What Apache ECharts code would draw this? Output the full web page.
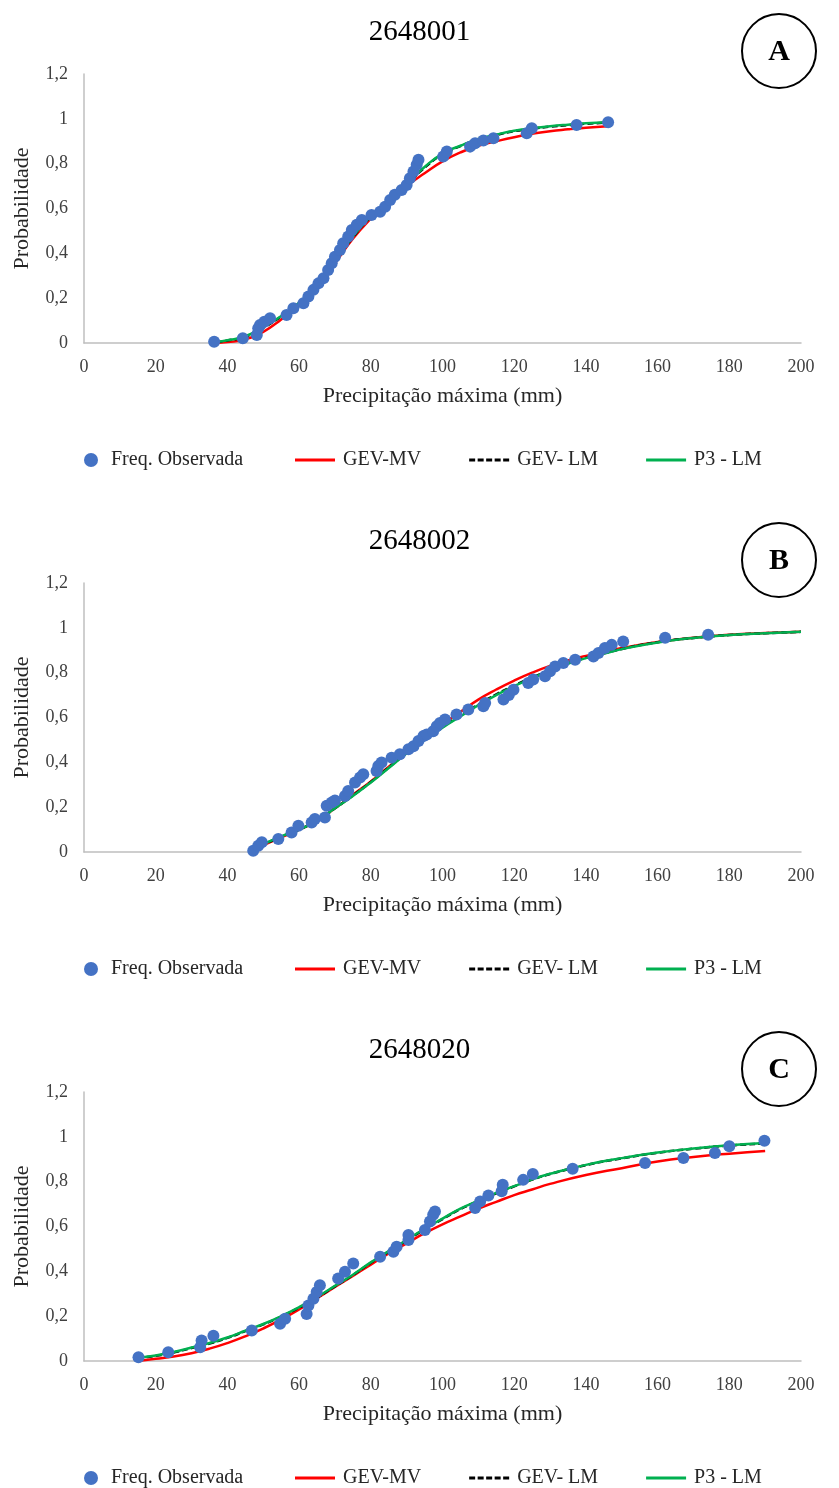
<!DOCTYPE html>
<html>
<head>
<meta charset="utf-8">
<script src="https://cdn.jsdelivr.net/npm/echarts@6/dist/echarts.min.js"></script>
<style>
  html, body { margin: 0; padding: 0; background: #fff; }
  #main { width: 839px; height: 1488px; }
</style>
</head>
<body>
<div id="main"></div>
<script>
// estações
var titles = ['2648001', '2648002', '2648020'];
var letters = ['A', 'B', 'C'];

// frequência observada
var obsXA = [36.3, 44.3, 48.2, 48.6, 49.1, 50.3, 51.9, 56.5, 58.4, 61.2, 62.6, 64.0, 65.4, 66.8, 68.1, 69.1, 70.0, 71.4, 72.3, 73.7, 74.7, 76.1, 77.5, 80.2, 82.6, 84.0, 85.4, 86.7, 88.6, 90.0, 90.9, 91.9, 92.8, 93.3, 100.2, 101.2, 107.7, 109.1, 111.4, 114.2, 123.5, 124.9, 137.4, 146.2];
var obsYA = [0.006, 0.021, 0.036, 0.066, 0.08, 0.095, 0.11, 0.125, 0.155, 0.177, 0.207, 0.237, 0.266, 0.289, 0.326, 0.356, 0.385, 0.415, 0.445, 0.475, 0.504, 0.527, 0.549, 0.571, 0.586, 0.608, 0.638, 0.661, 0.683, 0.705, 0.735, 0.765, 0.795, 0.817, 0.832, 0.854, 0.876, 0.891, 0.903, 0.913, 0.936, 0.958, 0.973, 0.985];

var obsXB = [47.2, 48.6, 49.6, 54.2, 57.9, 59.8, 63.5, 64.4, 67.2, 67.7, 69.1, 70.0, 72.8, 73.7, 75.6, 77.0, 77.9, 81.6, 82.1, 83.0, 85.8, 88.1, 90.5, 91.9, 93.3, 94.7, 95.6, 97.4, 98.4, 99.3, 100.7, 103.9, 107.2, 111.4, 111.9, 117.0, 118.5, 119.8, 123.9, 125.3, 128.6, 130.0, 131.4, 133.7, 137.0, 142.1, 143.5, 145.3, 147.2, 150.4, 162.1, 174.1];
var obsYB = [0.006, 0.028, 0.043, 0.058, 0.087, 0.117, 0.132, 0.147, 0.154, 0.206, 0.221, 0.23, 0.25, 0.272, 0.31, 0.332, 0.347, 0.361, 0.384, 0.399, 0.421, 0.436, 0.458, 0.472, 0.495, 0.517, 0.524, 0.539, 0.561, 0.576, 0.591, 0.613, 0.636, 0.65, 0.665, 0.68, 0.70, 0.724, 0.754, 0.769, 0.784, 0.806, 0.828, 0.843, 0.858, 0.872, 0.888, 0.91, 0.924, 0.939, 0.956, 0.969];

var obsXC = [15.2, 23.5, 32.4, 32.8, 36.1, 46.8, 54.7, 56.1, 62.1, 62.6, 64.0, 64.9, 65.8, 70.9, 72.8, 75.1, 82.6, 86.3, 87.2, 90.5, 90.5, 95.1, 96.5, 97.4, 97.9, 109.1, 110.5, 112.8, 116.5, 116.8, 122.5, 125.2, 136.3, 156.5, 167.2, 176.0, 180.0, 189.8];
var obsYC = [0.017, 0.039, 0.061, 0.091, 0.113, 0.136, 0.166, 0.188, 0.21, 0.248, 0.278, 0.308, 0.338, 0.368, 0.398, 0.435, 0.465, 0.487, 0.51, 0.54, 0.562, 0.584, 0.622, 0.652, 0.667, 0.682, 0.712, 0.738, 0.757, 0.786, 0.808, 0.834, 0.858, 0.883, 0.906, 0.928, 0.958, 0.983];

// curvas ajustadas
var curveXA = [37, 40, 45, 50, 55, 60, 65, 70, 75, 80, 85, 90, 95, 100, 105, 110, 115, 120, 125, 130, 135, 140, 146];
var gevMvA = [0.0, 0.004, 0.017, 0.05, 0.105, 0.17, 0.25, 0.355, 0.465, 0.555, 0.632, 0.70, 0.757, 0.81, 0.85, 0.88, 0.90, 0.918, 0.933, 0.945, 0.953, 0.96, 0.967];
var gevLmA = [0.004, 0.011, 0.028, 0.068, 0.118, 0.178, 0.258, 0.362, 0.472, 0.563, 0.638, 0.708, 0.782, 0.842, 0.878, 0.907, 0.928, 0.945, 0.956, 0.965, 0.972, 0.978, 0.983];
var p3LmA = [0.005, 0.012, 0.03, 0.07, 0.12, 0.18, 0.26, 0.365, 0.475, 0.565, 0.64, 0.71, 0.785, 0.845, 0.88, 0.91, 0.93, 0.947, 0.958, 0.967, 0.974, 0.98, 0.985];

var curveXB = [47, 50, 55, 60, 65, 70, 75, 80, 85, 90, 95, 100, 105, 110, 115, 120, 125, 130, 135, 140, 145, 150, 160, 170, 180, 190, 200];
var gevMvB = [0.005, 0.03, 0.065, 0.1, 0.14, 0.195, 0.255, 0.315, 0.38, 0.445, 0.51, 0.57, 0.625, 0.68, 0.725, 0.765, 0.8, 0.83, 0.855, 0.875, 0.893, 0.91, 0.937, 0.956, 0.969, 0.977, 0.983];
var gevLmB = [0.008, 0.033, 0.068, 0.1, 0.14, 0.195, 0.252, 0.312, 0.377, 0.442, 0.503, 0.558, 0.608, 0.658, 0.703, 0.743, 0.778, 0.812, 0.842, 0.866, 0.886, 0.906, 0.936, 0.955, 0.968, 0.976, 0.982];
var p3LmB = [0.01, 0.035, 0.07, 0.1, 0.14, 0.195, 0.25, 0.31, 0.375, 0.44, 0.5, 0.555, 0.605, 0.655, 0.7, 0.74, 0.775, 0.81, 0.84, 0.865, 0.885, 0.905, 0.935, 0.955, 0.968, 0.976, 0.982];

var curveXC = [15, 20, 25, 30, 35, 40, 45, 50, 55, 60, 65, 70, 75, 80, 85, 90, 95, 100, 105, 110, 115, 120, 125, 130, 140, 150, 160, 170, 180, 190];
var gevMvC = [0.0, 0.01, 0.02, 0.035, 0.055, 0.08, 0.11, 0.145, 0.185, 0.23, 0.28, 0.33, 0.38, 0.43, 0.48, 0.525, 0.57, 0.61, 0.645, 0.68, 0.71, 0.74, 0.765, 0.79, 0.83, 0.86, 0.89, 0.91, 0.925, 0.937];
var gevLmC = [0.013, 0.023, 0.038, 0.058, 0.078, 0.103, 0.133, 0.163, 0.198, 0.238, 0.283, 0.333, 0.383, 0.438, 0.488, 0.538, 0.588, 0.633, 0.678, 0.713, 0.748, 0.779, 0.809, 0.834, 0.874, 0.904, 0.929, 0.947, 0.961, 0.971];
var p3LmC = [0.015, 0.025, 0.04, 0.06, 0.08, 0.105, 0.135, 0.165, 0.2, 0.24, 0.285, 0.335, 0.385, 0.44, 0.49, 0.54, 0.59, 0.635, 0.68, 0.715, 0.75, 0.78, 0.81, 0.835, 0.875, 0.905, 0.93, 0.948, 0.962, 0.972];

var panels = [
  { obsX: obsXA, obsY: obsYA, cx: curveXA, mv: gevMvA, lm: gevLmA, p3: p3LmA },
  { obsX: obsXB, obsY: obsYB, cx: curveXB, mv: gevMvB, lm: gevLmB, p3: p3LmB },
  { obsX: obsXC, obsY: obsYC, cx: curveXC, mv: gevMvC, lm: gevLmC, p3: p3LmC }
];

var FONT = '"Liberation Serif", "DejaVu Serif", serif';
var gridTops = [74, 583, 1092];
var PLOT_H = 269;

function pairs(xs, ys) {
  return xs.map(function (x, i) { return [x, ys[i]]; });
}

// ícones de linha da legenda (sem marcador)
var ICON_SOLID = 'path://M0,0h40v3h-40z';
var ICON_DASH = 'path://M0,0h6v3h-6z M8.5,0h6v3h-6z M17,0h6v3h-6z M25.5,0h6v3h-6z M34,0h6v3h-6z';

var grid = [], xAxis = [], yAxis = [], series = [], title = [], legend = [], graphic = [];

panels.forEach(function (p, i) {
  var top = gridTops[i];
  grid.push({ left: 84, right: 38, top: top, height: PLOT_H });
  xAxis.push({
    gridIndex: i, type: 'value', min: 0, max: 200, interval: 20,
    name: 'Precipitação máxima (mm)', nameLocation: 'middle', nameGap: 42,
    nameTextStyle: { fontFamily: FONT, fontSize: 22, color: '#262626' },
    axisLine: { lineStyle: { color: '#bfbfbf', width: 1.5 } },
    axisTick: { show: false },
    splitLine: { show: false },
    axisLabel: { fontFamily: FONT, fontSize: 18, color: '#404040', margin: 15 }
  });
  yAxis.push({
    gridIndex: i, type: 'value', min: 0, max: 1.2, interval: 0.2,
    name: 'Probabilidade', nameLocation: 'middle', nameGap: 51, nameRotate: 90,
    nameTextStyle: { fontFamily: FONT, fontSize: 22, color: '#262626' },
    axisLine: { show: true, lineStyle: { color: '#bfbfbf', width: 1.5 } },
    axisTick: { show: false },
    splitLine: { show: false },
    axisLabel: {
      fontFamily: FONT, fontSize: 18, color: '#404040', margin: 16,
      formatter: function (v) { return String(Math.round(v * 10) / 10).replace('.', ','); }
    }
  });
  title.push({
    text: titles[i], left: 'center', top: top - 61,
    textStyle: { fontFamily: FONT, fontSize: 29, fontWeight: 'normal', color: '#000' }
  });
  series.push({
    name: 'GEV-MV', type: 'line', xAxisIndex: i, yAxisIndex: i, smooth: true,
    symbol: 'none', data: pairs(p.cx, p.mv),
    lineStyle: { color: '#ff0000', width: 2.5 }, itemStyle: { color: '#ff0000' }, z: 2
  });
  series.push({
    name: 'GEV- LM', type: 'line', xAxisIndex: i, yAxisIndex: i, smooth: true,
    symbol: 'none', data: pairs(p.cx, p.lm),
    lineStyle: { color: '#000', width: 2.5, type: [6, 3] }, itemStyle: { color: '#000' }, z: 2
  });
  series.push({
    name: 'P3 - LM', type: 'line', xAxisIndex: i, yAxisIndex: i, smooth: true,
    symbol: 'none', data: pairs(p.cx, p.p3),
    lineStyle: { color: '#00b050', width: 2.5 }, itemStyle: { color: '#00b050' }, z: 2
  });
  series.push({
    name: 'Freq. Observada', type: 'scatter', xAxisIndex: i, yAxisIndex: i,
    symbolSize: 12, data: pairs(p.obsX, p.obsY),
    itemStyle: { color: '#4472c4', opacity: 1 }, z: 3
  });
  var legTop = top + PLOT_H + 102;
  var textStyle = { fontFamily: FONT, fontSize: 20, color: '#262626' };
  legend.push({
    data: [{ name: 'Freq. Observada', icon: 'circle' }], left: 79, top: legTop,
    itemWidth: 14, itemHeight: 14, itemGap: 10,
    textStyle: Object.assign({ padding: [0, 0, 0, 8] }, textStyle),
    selectedMode: false
  });
  legend.push({
    data: [
      { name: 'GEV-MV', icon: ICON_SOLID },
      { name: 'GEV- LM', icon: ICON_DASH },
      { name: 'P3 - LM', icon: ICON_SOLID }
    ],
    left: 290, top: legTop,
    itemWidth: 46, itemHeight: 3, itemGap: 48,
    textStyle: textStyle,
    selectedMode: false
  });
  graphic.push({
    type: 'circle', shape: { cx: 779, cy: top - 23, r: 37 },
    style: { fill: '#fff', stroke: '#000', lineWidth: 2 }, z: 10
  });
  graphic.push({
    type: 'text', x: 779, y: top - 22, z: 11,
    style: { text: letters[i], fontFamily: FONT, fontSize: 30, fontWeight: 'bold',
             fill: '#000', align: 'center', verticalAlign: 'middle' }
  });
});

var chart = echarts.init(document.getElementById('main'));
chart.setOption({
  backgroundColor: '#fff',
  animation: false,
  title: title,
  grid: grid,
  xAxis: xAxis,
  yAxis: yAxis,
  legend: legend,
  series: series,
  graphic: graphic
});
</script>
</body>
</html>
